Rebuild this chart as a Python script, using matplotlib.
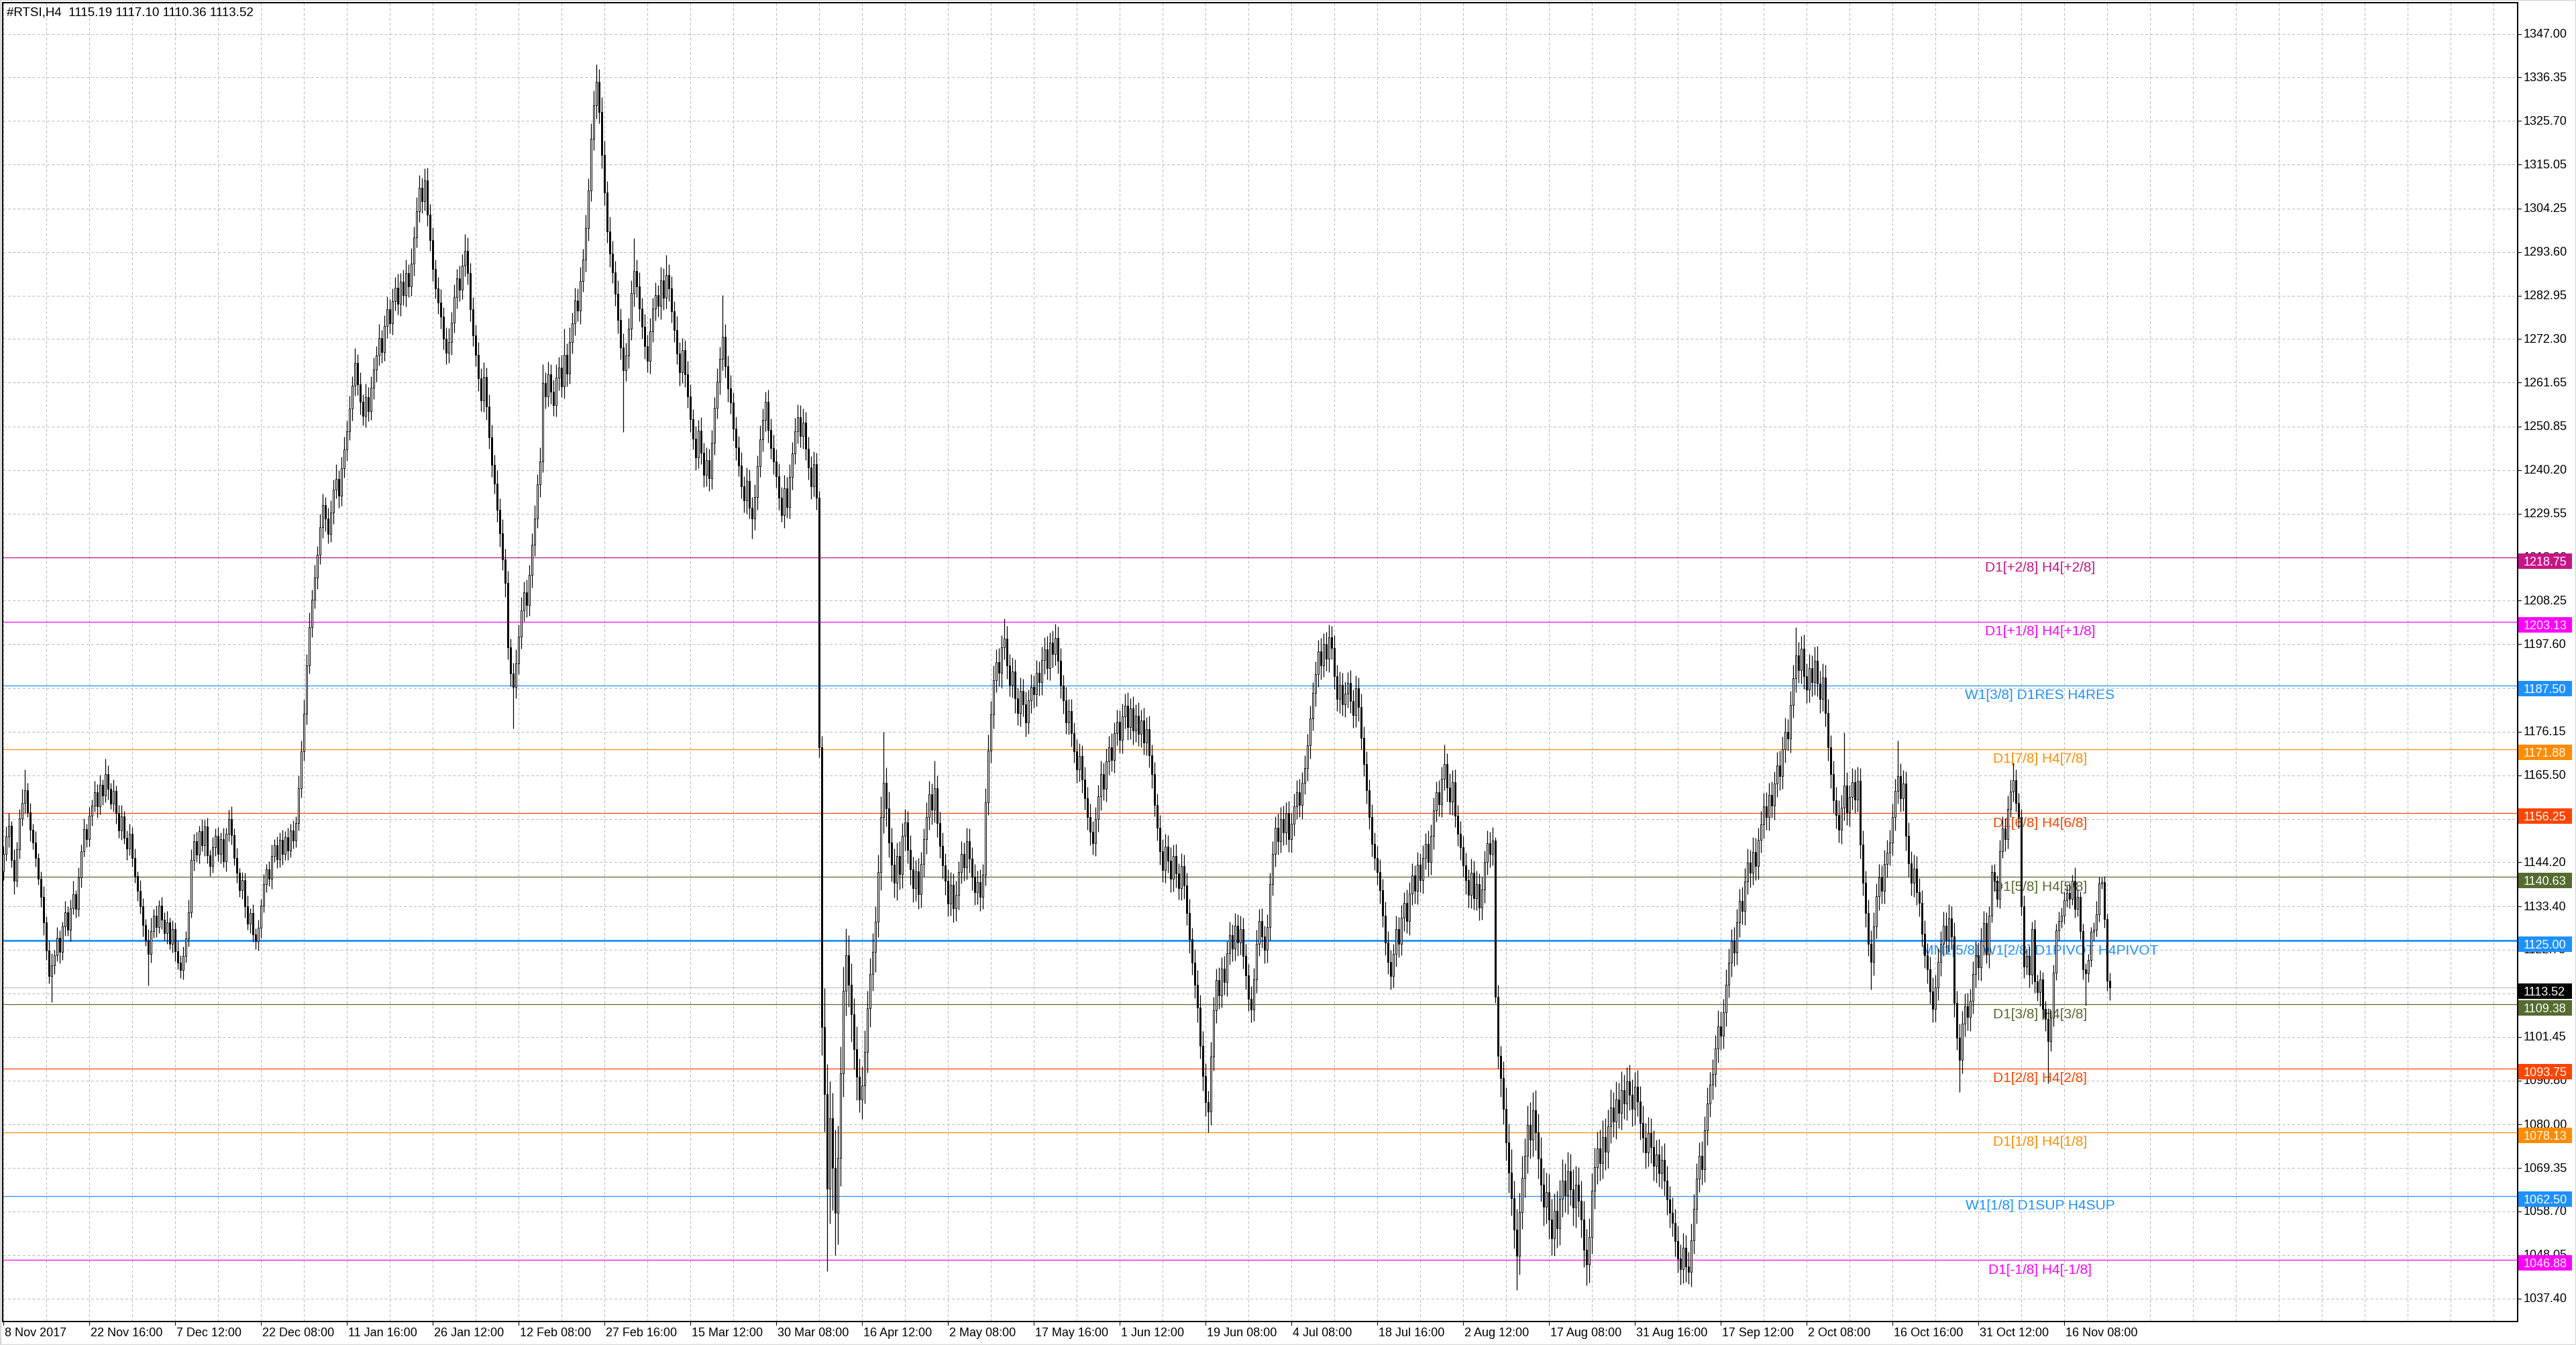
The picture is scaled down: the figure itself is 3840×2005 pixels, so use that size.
import matplotlib
matplotlib.use('Agg')
import matplotlib.pyplot as plt
from matplotlib.patches import Rectangle
from matplotlib.lines import Line2D
from matplotlib.transforms import blended_transform_factory
import numpy as np

plt.rcParams['font.family'] = ['Liberation Sans', 'DejaVu Sans']

# ---------------- data ----------------
title_text = '#RTSI,H4  1115.19 1117.10 1110.36 1113.52'
first_open = 1142.0
closes = [
1146.2, 1150.5, 1153.1, 1144.8, 1139.6, 1147.3, 1155.0, 1158.7, 1161.9, 1156.4, 1152.2, 1149.0, 1145.3, 1140.1, 1135.8, 1129.4,
1122.6, 1116.3, 1118.9, 1121.4, 1125.7, 1122.2, 1128.5, 1131.9, 1127.6, 1133.0, 1136.4, 1132.8, 1140.5, 1146.9, 1152.3, 1149.8,
1155.6, 1158.1, 1161.4, 1157.9, 1163.2, 1160.5, 1165.8, 1162.1, 1158.6, 1161.7, 1156.3, 1152.0, 1155.4, 1150.2, 1147.6, 1151.1,
1145.3, 1140.8, 1137.2, 1133.5, 1128.9, 1125.1, 1121.7, 1127.4, 1131.2, 1128.3, 1133.6, 1130.1, 1126.8, 1129.5, 1124.2, 1127.9,
1122.4, 1119.6, 1117.8, 1121.3, 1125.6, 1132.0, 1144.7, 1149.3, 1146.1, 1151.8, 1148.4, 1153.0, 1145.9, 1143.2, 1147.8, 1150.6,
1146.3, 1149.9, 1144.5, 1151.2, 1154.7, 1150.8, 1145.2, 1141.6, 1137.3, 1139.8, 1133.4, 1129.1, 1131.7, 1126.5, 1124.8, 1128.2,
1133.6, 1138.9, 1142.4, 1140.1, 1145.7, 1148.3, 1144.9, 1149.6, 1146.2, 1150.4, 1147.1, 1151.9, 1149.5, 1153.8, 1162.4, 1171.3,
1180.6, 1192.3, 1201.8, 1208.5, 1213.9, 1219.4, 1226.2, 1231.7, 1228.3, 1224.6, 1229.8, 1235.4, 1238.1, 1233.9, 1240.6, 1245.2,
1249.7, 1255.3, 1260.8, 1266.4, 1261.2, 1256.9, 1253.5, 1258.1, 1254.6, 1260.3, 1264.8, 1268.2, 1272.5, 1269.1, 1275.4, 1279.6,
1276.2, 1281.5, 1284.8, 1280.9, 1286.3, 1283.0, 1288.4, 1285.1, 1290.7, 1297.2, 1303.6, 1309.3, 1306.1, 1311.2, 1302.8, 1296.5,
1289.4, 1284.7, 1281.2, 1277.8, 1272.4, 1268.9, 1271.5, 1276.3, 1282.6, 1287.1, 1284.3, 1290.2, 1293.8, 1288.5, 1279.6, 1273.1,
1268.4, 1262.7, 1257.3, 1263.0, 1255.8, 1248.2, 1241.5, 1236.9, 1230.4, 1224.7, 1218.3, 1212.6, 1196.8, 1190.4, 1187.2, 1192.9,
1199.5, 1205.8, 1210.3, 1207.1, 1214.6, 1221.9, 1228.4, 1236.7, 1242.3, 1261.5, 1258.2, 1263.7, 1259.4, 1256.1, 1262.8, 1265.3,
1260.7, 1268.4, 1263.9, 1271.6, 1276.2, 1281.8, 1279.3, 1286.5, 1291.7, 1299.4, 1308.6, 1321.3, 1329.5, 1335.2, 1327.8, 1317.4,
1308.1, 1298.6, 1293.2, 1288.7, 1283.4, 1276.9, 1270.2, 1264.6, 1268.3, 1274.8, 1283.5, 1288.9, 1285.2, 1279.7, 1275.3, 1270.6,
1266.9, 1274.2, 1279.8, 1283.1, 1280.4, 1286.7, 1282.3, 1287.9, 1284.6, 1279.1, 1274.5, 1268.8, 1264.2, 1269.5, 1263.7, 1258.3,
1252.6, 1247.9, 1243.3, 1249.8, 1244.5, 1239.1, 1242.7, 1238.2, 1246.9, 1255.4, 1261.8, 1267.5, 1272.9, 1265.6, 1260.2, 1256.7,
1250.3, 1245.8, 1241.4, 1236.2, 1232.7, 1237.5, 1230.9, 1228.4, 1233.6, 1241.2, 1247.8, 1252.5, 1256.9, 1250.1, 1245.6, 1242.3,
1238.7, 1233.4, 1229.1, 1235.8, 1231.2, 1238.6, 1244.3, 1249.7, 1253.2, 1248.5, 1251.9, 1245.4, 1240.8, 1236.3, 1241.7, 1233.5,
1172.4, 1103.8, 1087.5, 1064.2, 1081.6, 1069.4, 1058.3, 1071.9, 1092.6, 1112.8, 1121.5, 1114.2, 1106.9, 1098.4, 1091.7, 1086.2,
1089.5, 1097.8, 1108.4, 1116.9, 1122.3, 1129.6, 1141.8, 1155.2, 1163.7, 1157.4, 1149.1, 1143.6, 1139.2, 1145.8, 1141.3, 1150.6,
1153.9, 1147.2, 1142.5, 1137.8, 1141.9, 1136.4, 1143.7, 1149.8, 1155.3, 1160.9, 1157.1, 1162.4, 1153.8, 1148.2, 1143.5, 1139.7,
1134.1, 1138.6, 1132.9, 1136.2, 1141.8, 1146.3, 1143.0, 1149.4, 1145.1, 1140.6, 1136.8, 1139.3, 1135.7, 1141.2, 1158.9, 1171.6,
1180.4, 1188.7, 1193.2, 1190.5, 1196.8, 1198.9, 1192.4, 1187.6, 1190.9, 1184.3, 1180.7, 1186.2, 1182.9, 1178.4, 1183.8, 1187.1,
1185.3, 1190.6, 1188.2, 1193.7, 1196.4, 1191.8, 1197.9, 1195.2, 1199.1, 1193.6, 1187.4, 1183.9, 1178.5, 1181.2, 1175.8, 1171.4,
1166.9, 1170.2, 1164.5, 1159.8, 1155.3, 1151.6, 1148.9, 1154.7, 1160.3, 1165.8, 1162.1, 1168.9, 1172.4, 1169.3, 1175.8, 1178.6,
1174.2, 1179.9, 1182.5, 1177.3, 1181.8, 1176.4, 1180.1, 1175.7, 1178.9, 1173.5, 1176.8, 1170.4, 1165.7, 1158.2, 1152.6, 1146.9,
1142.3, 1148.1, 1144.6, 1140.2, 1145.7, 1141.4, 1137.9, 1143.2, 1138.5, 1131.8, 1125.4, 1119.7, 1114.2, 1108.6, 1099.3, 1091.8,
1085.4, 1083.1, 1096.7, 1107.9, 1115.3, 1111.6, 1118.2, 1114.8, 1121.9, 1126.4, 1123.1, 1128.7, 1124.5, 1127.9, 1121.3, 1116.5,
1110.8, 1108.2, 1115.6, 1124.3, 1129.8, 1126.1, 1122.7, 1128.4, 1138.9, 1146.2, 1152.7, 1149.3, 1154.8, 1151.5, 1156.2, 1149.8,
1153.6, 1157.9, 1161.4, 1158.2, 1163.7, 1167.3, 1172.9, 1179.4, 1185.6, 1190.2, 1195.8, 1192.4, 1197.6, 1194.1, 1199.3, 1196.7,
1189.8, 1184.2, 1187.6, 1182.9, 1185.4, 1188.1, 1183.7, 1180.3, 1186.8, 1182.2, 1174.6, 1168.3, 1161.9, 1155.2, 1148.7, 1145.3,
1141.8, 1137.4, 1131.2, 1124.6, 1119.8, 1116.3, 1121.7, 1127.9, 1124.3, 1130.6, 1134.2, 1129.8, 1136.5, 1140.9, 1137.2, 1143.6,
1139.8, 1145.3, 1148.7, 1144.2, 1150.6, 1156.9, 1161.3, 1158.4, 1164.7, 1168.2, 1162.5, 1159.1, 1163.8, 1155.6, 1151.2, 1147.9,
1143.5, 1139.8, 1136.2, 1141.7, 1135.4, 1138.9, 1133.1, 1137.6, 1144.2, 1148.9, 1146.3, 1149.5, 1111.2, 1096.8, 1091.3, 1083.9,
1075.6, 1068.2, 1061.9, 1054.3, 1047.8, 1058.6, 1066.9, 1072.4, 1079.8, 1076.2, 1083.5, 1078.1, 1071.6, 1065.3, 1059.8, 1063.4,
1056.7, 1052.1, 1058.9, 1054.6, 1061.8, 1066.3, 1062.7, 1068.5, 1064.1, 1059.6, 1065.2, 1061.4, 1056.8, 1049.3, 1045.7, 1052.4,
1063.8, 1069.5, 1074.2, 1070.6, 1076.9, 1073.3, 1079.6, 1084.1, 1080.7, 1086.2, 1082.9, 1088.4, 1085.1, 1090.6, 1087.3, 1083.8,
1089.2, 1085.6, 1080.3, 1076.8, 1073.2, 1077.9, 1074.4, 1069.8, 1072.6, 1068.1, 1071.4, 1066.2, 1061.7, 1058.3, 1055.9, 1051.4,
1047.2, 1044.6, 1049.8, 1045.3, 1043.9, 1051.7, 1059.4, 1066.8, 1072.3, 1069.1, 1078.6, 1085.2, 1089.7, 1092.3, 1098.6, 1104.1,
1101.8, 1107.5, 1114.2, 1119.6, 1124.8, 1122.1, 1129.4, 1134.7, 1132.2, 1139.5, 1144.1, 1141.6, 1146.8, 1143.2, 1149.7, 1153.4,
1157.9, 1155.2, 1160.6, 1158.1, 1163.4, 1167.9, 1165.3, 1171.8, 1176.2, 1174.5, 1182.7, 1189.3, 1194.8, 1191.2, 1196.5, 1189.7,
1186.4, 1191.8, 1188.3, 1193.6, 1187.9, 1184.2, 1189.5, 1180.8, 1172.3, 1165.7, 1159.4, 1155.8, 1152.1, 1157.6, 1162.9, 1156.4,
1160.2, 1163.8, 1159.5, 1164.1, 1148.6, 1139.2, 1131.7, 1124.3, 1119.8, 1128.5, 1135.9, 1140.4, 1137.2, 1143.8, 1146.5, 1149.1,
1155.3, 1161.7, 1165.2, 1159.8, 1163.4, 1150.6, 1143.9, 1139.2, 1142.6, 1136.8, 1134.3, 1126.7, 1121.4, 1117.9, 1112.6, 1108.3,
1113.5, 1119.8, 1124.3, 1128.7, 1125.2, 1130.4, 1126.1, 1109.7, 1101.3, 1095.8, 1104.6, 1108.9, 1106.3, 1110.2, 1116.8, 1121.5,
1118.4, 1124.9, 1129.3, 1121.6, 1131.2, 1141.8, 1139.6, 1135.3, 1146.9, 1152.4, 1149.8, 1157.2, 1161.5, 1164.3, 1158.7, 1155.2,
1133.4, 1118.6, 1121.2, 1116.7, 1127.8, 1115.1, 1112.4, 1115.6, 1108.3, 1105.9, 1100.4, 1106.1, 1117.1, 1127.5, 1129.8, 1131.2,
1134.9, 1136.7, 1135.2, 1139.6, 1132.7, 1135.8, 1127.3, 1118.0, 1117.0, 1120.2, 1127.1, 1127.6, 1131.4, 1139.0, 1139.3, 1130.3,
1115.19, 1113.52]
up_wick = [
1.8, 2.4, 3.1, 1.2, 2.6, 1.9, 2.2, 3.4, 5.1, 1.7, 2.3, 1.4, 2.8, 1.1, 1.9, 2.5,
1.6, 2.2, 3.0, 1.4, 2.7, 1.8, 1.2, 2.9, 1.5, 2.1, 3.3, 1.0, 2.4, 1.7, 2.6, 1.3,
2.2, 1.5, 2.8, 1.9, 2.4, 1.3, 3.8, 2.1, 1.6, 2.7, 1.2, 2.0, 2.9, 1.4, 1.8, 2.5,
1.7, 2.3, 1.1, 2.6, 1.9, 1.4, 2.8, 3.2, 1.6, 2.4, 1.3, 2.1, 1.8, 2.7, 1.2, 2.0,
1.5, 2.4, 1.9, 2.2, 1.7, 3.1, 2.6, 1.8, 2.3, 1.4, 2.9, 1.6, 2.1, 1.3, 2.5, 1.9,
2.2, 1.6, 2.8, 1.4, 2.3, 3.2, 1.7, 2.5, 1.2, 2.0, 1.8, 2.6, 1.3, 2.2, 1.5, 1.9,
1.7, 2.4, 1.3, 2.1, 2.8, 1.5, 2.2, 1.9, 2.6, 1.4, 2.3, 1.8, 2.5, 1.6, 3.1, 2.7,
3.4, 2.8, 3.6, 2.5, 3.1, 2.2, 3.3, 2.7, 1.9, 2.6, 3.0, 2.4, 3.5, 2.1, 2.8, 3.2,
2.6, 3.1, 2.4, 3.7, 2.2, 2.9, 1.8, 3.3, 2.5, 2.8, 3.0, 2.3, 3.4, 2.0, 2.7, 3.1,
2.4, 3.2, 2.7, 3.5, 2.1, 2.9, 3.3, 2.2, 3.8, 2.6, 3.4, 3.1, 2.5, 2.8, 3.0, 2.6,
3.1, 2.4, 2.8, 3.3, 2.2, 2.7, 3.5, 2.6, 3.0, 2.3, 3.2, 2.8, 4.1, 3.4, 2.5, 2.9,
2.7, 3.2, 2.5, 3.6, 2.3, 2.9, 3.1, 2.4, 3.3, 2.8, 3.5, 2.6, 3.0, 2.2, 2.7, 3.4,
2.9, 3.3, 2.6, 3.1, 2.4, 2.8, 3.2, 2.5, 3.4, 4.6, 2.7, 3.1, 2.4, 2.9, 3.3, 2.6,
3.2, 6.4, 2.8, 3.5, 2.6, 3.1, 2.9, 3.4, 2.7, 3.3, 3.0, 3.8, 3.6, 4.4, 3.2, 3.7,
3.4, 2.9, 3.6, 3.1, 2.7, 3.3, 2.8, 3.5, 3.0, 2.6, 3.2, 8.1, 2.9, 3.4, 2.7, 3.1,
2.8, 3.3, 2.6, 3.0, 2.4, 3.2, 2.9, 5.0, 2.7, 3.1, 2.5, 3.4, 2.8, 3.0, 2.6, 3.2,
2.9, 2.5, 3.1, 2.7, 3.3, 2.4, 3.0, 2.8, 3.2, 2.6, 3.4, 2.9, 10.1, 3.1, 2.7, 3.3,
2.6, 3.0, 2.8, 3.2, 2.5, 3.4, 2.9, 2.7, 3.1, 2.6, 3.3, 2.8, 2.5, 3.0, 2.7, 3.2,
2.9, 3.1, 2.6, 3.3, 2.8, 3.0, 2.7, 3.2, 3.1, 2.9, 3.4, 2.6, 3.0, 2.8, 3.1, 2.7,
1.5, 2.8, 9.6, 7.3, 8.9, 6.2, 9.4, 7.8, 6.5, 5.9, 6.5, 4.8, 5.3, 4.1, 5.6, 4.4,
4.7, 5.2, 4.3, 3.9, 4.6, 3.8, 4.2, 5.1, 12.5, 3.7, 4.1, 3.5, 3.9, 3.3, 3.6, 3.2,
3.4, 2.9, 3.6, 3.1, 2.8, 3.3, 3.0, 2.7, 3.5, 3.2, 2.6, 6.6, 3.1, 2.8, 3.3, 2.9,
2.7, 3.2, 2.9, 3.4, 2.6, 3.1, 2.8, 3.3, 3.0, 2.7, 3.2, 2.9, 3.1, 2.6, 3.5, 3.8,
3.3, 3.6, 3.1, 3.4, 2.9, 5.0, 3.2, 2.8, 3.5, 3.0, 2.7, 3.3, 2.9, 3.1, 2.6, 3.2,
2.8, 3.1, 2.7, 3.3, 2.9, 3.2, 2.6, 3.0, 3.5, 2.8, 3.1, 2.7, 3.3, 2.9, 3.0, 2.6,
2.9, 3.2, 2.7, 3.1, 2.8, 3.3, 2.6, 3.0, 2.9, 3.2, 2.7, 3.1, 2.8, 3.4, 2.6, 3.0,
2.7, 3.1, 2.9, 3.3, 2.6, 3.0, 2.8, 3.2, 2.7, 3.1, 2.9, 3.3, 2.6, 3.0, 2.8, 3.2,
2.9, 3.1, 2.7, 3.3, 2.8, 3.0, 2.6, 3.2, 2.9, 3.1, 3.4, 2.8, 3.2, 3.6, 3.1, 3.5,
3.2, 2.9, 3.6, 3.3, 2.8, 3.1, 2.7, 3.0, 2.9, 3.2, 2.6, 3.1, 2.8, 3.3, 2.7, 3.0,
2.8, 3.1, 2.7, 3.3, 2.9, 3.2, 2.6, 3.0, 2.8, 3.1, 2.7, 3.4, 2.9, 3.2, 2.6, 3.0,
2.7, 3.1, 2.9, 3.3, 2.6, 3.0, 2.8, 3.2, 2.7, 3.1, 2.9, 3.3, 2.6, 3.0, 3.1, 2.8,
3.1, 2.7, 3.3, 2.9, 3.0, 2.6, 3.2, 2.8, 3.1, 2.7, 3.3, 2.9, 3.0, 2.6, 3.2, 2.8,
2.9, 3.1, 2.7, 3.3, 2.8, 3.0, 2.6, 3.2, 2.9, 3.1, 2.7, 3.3, 2.8, 3.0, 2.6, 3.2,
2.8, 3.1, 2.7, 3.3, 2.9, 3.2, 2.6, 3.0, 2.8, 4.8, 2.7, 3.4, 2.9, 3.2, 2.6, 3.0,
2.8, 3.1, 2.7, 3.3, 2.9, 3.2, 2.6, 3.0, 2.8, 3.1, 2.7, 3.3, 0.8, 3.0, 2.4, 4.1,
5.2, 4.6, 5.8, 4.3, 5.1, 4.7, 5.4, 4.2, 4.9, 5.6, 4.4, 5.0, 4.6, 5.3, 4.1, 4.8,
4.5, 5.1, 4.3, 4.9, 4.6, 5.2, 4.2, 4.8, 4.4, 5.0, 4.7, 4.3, 4.9, 4.5, 5.1, 4.6,
4.3, 4.8, 4.1, 4.6, 4.2, 4.7, 4.0, 4.5, 3.9, 4.4, 4.1, 4.6, 3.8, 3.4, 4.0, 3.7,
3.6, 4.1, 3.8, 4.3, 3.5, 4.0, 3.7, 4.2, 3.6, 3.9, 3.4, 4.1, 3.7, 3.3, 3.8, 3.5,
3.9, 3.4, 3.7, 3.2, 3.6, 4.0, 3.5, 3.8, 3.3, 3.7, 3.4, 3.9, 3.2, 3.6, 3.3, 3.8,
3.5, 3.2, 3.7, 3.4, 3.1, 3.6, 3.3, 3.0, 3.5, 3.2, 3.4, 3.1, 3.6, 3.3, 3.0, 3.4,
3.2, 3.5, 3.1, 3.4, 3.0, 3.3, 3.6, 3.2, 3.4, 3.1, 3.5, 3.2, 7.0, 3.3, 3.1, 3.4,
3.1, 3.4, 3.0, 3.3, 3.5, 3.2, 3.4, 3.1, 3.3, 3.0, 3.4, 3.2, 3.5, 3.1, 13.1, 3.3,
3.0, 3.4, 3.2, 3.5, 3.1, 3.3, 3.0, 3.4, 3.2, 3.5, 3.1, 3.3, 3.0, 3.4, 3.2, 3.1,
3.3, 3.0, 8.8, 3.2, 3.4, 3.1, 3.3, 3.0, 3.4, 3.2, 3.5, 3.1, 3.3, 3.0, 3.2, 3.4,
3.1, 3.3, 3.0, 3.4, 3.2, 3.5, 3.1, 3.3, 3.0, 3.4, 3.2, 3.1, 3.3, 3.0, 3.2, 3.4,
3.1, 3.3, 3.0, 2.6, 2.2, 1.8, 2.0, 1.4, 2.8, 3.1, 2.5, 3.3, 2.9, 4.2, 2.7, 2.4,
2.1, 2.6, 1.8, 2.3, 1.9, 2.4, 1.6, 2.2, 1.7, 2.0, 2.5, 1.8, 2.1, 1.6, 2.3, 1.9,
2.2, 1.8, 2.4, 1.5, 3.4, 1.7, 1.3, 1.9, 1.4, 1.6, 1.2, 1.8, 3.4, 1.6, 1.1, 1.5,
1.3, 1.91]
down_wick = [
2.1, 1.6, 2.7, 1.9, 3.2, 1.4, 2.3, 1.8, 2.5, 1.2, 2.9, 1.7, 2.2, 1.5, 2.6, 3.0,
2.4, 1.8, 6.3, 2.1, 1.5, 2.7, 1.9, 2.3, 1.4, 2.8, 1.6, 2.2, 1.9, 2.5, 1.3, 2.0,
1.7, 2.4, 1.5, 2.8, 1.9, 2.2, 1.6, 2.6, 1.3, 2.1, 2.7, 1.8, 2.3, 1.5, 2.9, 1.7,
2.2, 1.6, 2.5, 1.9, 2.8, 1.4, 7.7, 2.0, 1.7, 2.4, 1.5, 2.2, 1.8, 2.6, 1.3, 2.1,
2.4, 1.7, 1.9, 2.3, 1.6, 2.0, 1.4, 2.5, 1.8, 2.2, 1.5, 2.7, 1.9, 2.4, 1.6, 2.1,
1.8, 2.3, 1.5, 2.6, 1.9, 2.2, 1.7, 2.4, 1.6, 2.0, 2.8, 1.5, 2.3, 1.8, 1.9, 2.2,
2.5, 1.6, 2.1, 1.8, 2.4, 1.5, 2.2, 1.9, 2.6, 1.4, 2.3, 1.7, 2.0, 1.6, 1.9, 2.4,
2.2, 2.7, 1.9, 2.5, 2.1, 2.8, 2.3, 2.6, 3.1, 2.4, 2.0, 2.7, 2.2, 2.9, 2.5, 2.3,
2.7, 2.2, 2.9, 2.4, 2.6, 3.1, 2.3, 2.8, 2.5, 2.1, 2.7, 2.9, 2.4, 2.6, 2.2, 2.8,
2.5, 2.9, 2.3, 2.7, 3.0, 2.4, 2.8, 2.6, 2.2, 2.9, 2.5, 2.7, 3.1, 2.4, 2.8, 2.6,
2.9, 2.5, 2.7, 3.0, 2.6, 2.8, 2.4, 3.1, 2.5, 2.9, 2.7, 2.3, 2.6, 2.8, 3.0, 2.5,
2.8, 3.1, 2.6, 2.9, 3.3, 2.7, 3.0, 2.5, 2.8, 3.2, 2.6, 3.4, 2.9, 3.1, 10.2, 2.8,
2.7, 3.0, 2.5, 2.9, 2.6, 3.2, 2.8, 2.4, 3.1, 2.7, 2.9, 2.5, 3.0, 2.6, 2.8, 3.1,
2.6, 2.9, 3.2, 2.5, 2.8, 3.0, 2.7, 3.3, 2.6, 2.9, 3.1, 2.5, 2.8, 3.2, 2.7, 3.4,
3.1, 2.8, 3.3, 2.7, 3.0, 3.2, 2.9, 15.0, 2.6, 3.1, 2.8, 3.3, 2.7, 3.0, 2.9, 3.2,
2.8, 3.1, 2.6, 3.0, 2.7, 3.2, 2.9, 2.5, 3.1, 2.8, 3.0, 2.6, 3.3, 2.7, 3.1, 2.9,
3.0, 2.7, 3.2, 2.6, 2.9, 3.1, 2.8, 3.2, 2.7, 3.0, 2.6, 3.1, 2.9, 2.7, 3.2, 2.8,
2.9, 3.1, 2.7, 3.0, 2.8, 3.2, 2.6, 5.0, 2.9, 3.1, 2.7, 3.0, 2.8, 3.2, 2.6, 3.1,
2.8, 3.0, 1.6, 3.1, 2.7, 2.9, 3.2, 2.6, 3.0, 2.8, 3.1, 2.7, 2.9, 3.2, 2.6, 3.0,
2.5, 6.8, 9.2, 20.2, 8.4, 10.3, 10.3, 7.6, 6.9, 5.8, 6.2, 5.4, 6.7, 4.9, 5.8, 3.2,
4.8, 4.3, 5.1, 4.6, 4.2, 4.9, 3.8, 4.4, 3.9, 4.5, 3.7, 4.1, 3.6, 4.3, 3.8, 3.5,
3.6, 3.2, 3.8, 3.4, 3.1, 3.7, 3.3, 3.0, 3.5, 3.2, 3.6, 3.1, 3.4, 3.0, 3.3, 3.5,
3.2, 2.9, 3.4, 3.1, 3.6, 2.8, 3.3, 3.0, 3.5, 3.2, 3.1, 2.9, 3.4, 3.0, 2.7, 3.2,
3.1, 3.4, 2.9, 3.2, 3.6, 3.0, 3.3, 2.8, 3.1, 3.5, 2.9, 3.2, 3.0, 3.4, 2.8, 3.1,
3.3, 2.9, 3.2, 3.0, 3.4, 2.8, 3.1, 3.3, 2.9, 3.2, 3.0, 3.4, 2.8, 3.1, 3.3, 2.9,
3.2, 3.0, 3.4, 2.8, 3.1, 3.3, 2.9, 3.2, 3.0, 3.4, 2.8, 3.1, 3.3, 2.9, 3.2, 3.0,
3.1, 3.3, 2.9, 3.2, 3.0, 3.4, 2.8, 3.1, 3.3, 2.9, 3.2, 3.0, 3.4, 2.8, 3.1, 3.3,
3.0, 3.2, 2.9, 3.4, 3.1, 3.3, 2.8, 3.0, 3.2, 2.9, 3.4, 3.1, 3.3, 3.6, 3.2, 3.5,
3.4, 5.1, 3.2, 3.5, 3.0, 3.3, 2.9, 3.1, 3.4, 2.8, 3.2, 3.0, 3.3, 2.9, 3.1, 3.4,
3.0, 3.2, 2.9, 3.3, 3.1, 2.8, 3.2, 3.0, 3.4, 2.9, 3.1, 3.3, 2.8, 3.2, 3.0, 3.1,
3.3, 2.9, 3.2, 3.0, 3.4, 2.8, 3.1, 3.3, 2.9, 3.2, 3.0, 3.4, 2.8, 3.1, 3.3, 2.9,
3.2, 3.0, 3.4, 2.8, 3.1, 3.3, 2.9, 3.2, 3.0, 3.4, 2.8, 3.1, 3.3, 2.9, 3.2, 3.0,
3.1, 3.3, 2.9, 3.2, 3.0, 3.3, 2.8, 3.1, 3.3, 2.9, 3.2, 3.0, 3.4, 2.8, 3.1, 3.3,
3.0, 3.2, 2.9, 3.4, 3.1, 3.3, 2.8, 3.0, 3.2, 2.9, 3.4, 3.1, 3.3, 2.8, 3.0, 3.2,
2.9, 3.4, 3.1, 3.3, 2.8, 3.0, 3.2, 2.9, 3.4, 3.1, 3.3, 2.8, 1.4, 3.2, 4.5, 3.8,
4.4, 4.9, 4.2, 4.7, 8.3, 4.5, 4.1, 4.8, 4.3, 4.6, 4.0, 4.4, 4.9, 4.2, 4.5, 4.1,
4.7, 4.0, 4.3, 4.8, 4.1, 4.5, 4.2, 4.6, 4.0, 4.4, 4.8, 4.1, 4.5, 4.2, 5.0, 4.4,
4.1, 4.5, 4.0, 4.3, 3.9, 4.4, 4.0, 4.2, 3.8, 4.3, 3.9, 4.1, 3.7, 4.0, 3.8, 4.2,
3.9, 3.6, 4.1, 3.7, 4.0, 3.5, 3.9, 3.6, 4.0, 3.4, 3.8, 3.5, 3.9, 3.6, 3.3, 3.7,
3.4, 3.8, 3.5, 3.9, 3.0, 3.6, 3.3, 3.7, 3.4, 3.8, 3.2, 3.6, 3.3, 3.5, 3.1, 3.4,
3.6, 3.2, 3.5, 3.1, 3.4, 3.3, 3.0, 3.5, 3.2, 3.4, 3.1, 3.6, 3.0, 3.3, 3.2, 3.1,
3.4, 3.1, 3.3, 3.0, 3.5, 3.2, 3.4, 3.1, 3.3, 3.0, 3.4, 3.2, 3.5, 3.1, 3.3, 3.0,
3.3, 3.0, 3.4, 3.2, 3.1, 3.5, 3.0, 3.3, 3.2, 3.4, 3.1, 3.3, 3.0, 3.4, 3.2, 3.1,
3.4, 3.1, 3.3, 3.0, 3.5, 3.2, 3.4, 3.1, 6.8, 3.3, 3.0, 3.4, 3.2, 3.1, 3.3, 3.0,
3.2, 3.4, 3.1, 3.3, 3.0, 3.5, 3.2, 3.1, 3.4, 3.0, 3.3, 3.2, 3.1, 3.4, 3.0, 3.3,
3.2, 3.0, 3.4, 3.1, 3.3, 3.0, 3.2, 3.4, 3.1, 7.8, 3.3, 3.0, 3.2, 3.4, 3.1, 3.3,
3.0, 3.2, 3.4, 2.1, 3.3, 1.8, 2.6, 2.0, 2.4, 1.7, 2.9, 2.2, 1.9, 2.5, 2.1, 2.8,
2.3, 2.7, 2.0, 3.1, 2.4, 2.8, 2.2, 3.4, 2.6, 3.0, 10.4, 2.5, 2.1, 1.8, 2.4, 1.6,
2.0, 1.7, 2.3, 1.5, 2.1, 1.8, 1.9, 2.4, 7.9, 2.2, 1.6, 2.0, 1.5, 1.8, 1.3, 2.1,
2.4, 3.16]

level_prices = [1218.75, 1203.13, 1187.50, 1171.88, 1156.25, 1140.63,
                1125.00, 1109.38, 1093.75, 1078.13, 1062.50, 1046.88]
level_texts = ['D1[+2/8] H4[+2/8]', 'D1[+1/8] H4[+1/8]', 'W1[3/8] D1RES H4RES',
               'D1[7/8] H4[7/8]', 'D1[6/8] H4[6/8]', 'D1[5/8] H4[5/8]',
               'MN1[5/8] W1[2/8] D1PIVOT H4PIVOT', 'D1[3/8] H4[3/8]', 'D1[2/8] H4[2/8]',
               'D1[1/8] H4[1/8]', 'W1[1/8] D1SUP H4SUP', 'D1[-1/8] H4[-1/8]']
current_price = 1113.52

y_ticks = [1347.00, 1336.35, 1325.70, 1315.05, 1304.25, 1293.60, 1282.95, 1272.30,
           1261.65, 1250.85, 1240.20, 1229.55, 1218.90, 1208.25, 1197.60, 1186.80,
           1176.15, 1165.50, 1154.85, 1144.20, 1133.40, 1122.75, 1112.10, 1101.45,
           1090.80, 1080.00, 1069.35, 1058.70, 1048.05, 1037.40]
x_tick_labels = ['8 Nov 2017', '22 Nov 16:00', '7 Dec 12:00', '22 Dec 08:00', '11 Jan 16:00',
                 '26 Jan 12:00', '12 Feb 08:00', '27 Feb 16:00', '15 Mar 12:00', '30 Mar 08:00',
                 '16 Apr 12:00', '2 May 08:00', '17 May 16:00', '1 Jun 12:00', '19 Jun 08:00',
                 '4 Jul 08:00', '18 Jul 16:00', '2 Aug 12:00', '17 Aug 08:00', '31 Aug 16:00',
                 '17 Sep 12:00', '2 Oct 08:00', '16 Oct 16:00', '31 Oct 12:00', '16 Nov 08:00']

# ---------------- styles ----------------
level_colors = ['#C71585', '#FF00FF', '#1E90FF', '#FF8C00', '#FF4500', '#556B2F',
                '#1E90FF', '#556B2F', '#FF4500', '#FF8C00', '#1E90FF', '#FF00FF']
LABEL_STEP = 32
GRID_STEP = 16

W, H, DPI = 3840, 2006, 100
assert len(closes) == len(up_wick) == len(down_wick)

c = np.array(closes)
o = np.concatenate([[first_open], c[:-1]])
hi = np.maximum(o, c) + np.array(up_wick)
lo = np.minimum(o, c) - np.array(down_wick)
x = np.arange(len(c))

fig = plt.figure(figsize=(W / DPI, H / DPI), dpi=DPI)
fig.patch.set_facecolor('white')
px_l, px_r, px_t, px_b = 4, 3753, 5, 1971
ax = fig.add_axes([px_l / W, 1 - px_b / H, (px_r - px_l) / W, (px_b - px_t) / H])
ax.set_xlim(-0.25, 937)
ax.set_ylim(1031.76, 1354.64)
ax.set_xticks([]); ax.set_yticks([])
for s in ax.spines.values():
    s.set_color('black'); s.set_linewidth(1.4)

grid_kw = dict(color='#BDBDBD', lw=0.75, ls=(0, (4, 3)), zorder=0)
for yv in y_ticks:
    ax.axhline(yv, **grid_kw)
for b in range(0, 937, GRID_STEP):
    ax.axvline(b, **grid_kw)

# levels
for p, col, txt in zip(level_prices, level_colors, level_texts):
    ax.axhline(p, color=col, lw=(2.0 if txt.startswith('MN1') else 0.9), zorder=1)
    ax.text(759, p - 0.75, txt, color=col, fontsize=15, ha='center', va='top', zorder=1.5)
ax.axhline(current_price, color='#C0C0C0', lw=0.9, zorder=1)

# candles
ax.vlines(x, lo, hi, color='black', lw=0.9, zorder=3)
bull = c >= o
ax.bar(x[bull], (c - o)[bull], bottom=o[bull], width=0.6, facecolor='white',
       edgecolor='black', linewidth=0.7, zorder=4)
ax.bar(x[~bull], (o - c)[~bull], bottom=c[~bull], width=0.6, facecolor='black',
       edgecolor='black', linewidth=0.7, zorder=4)

# right price scale
tr_r = blended_transform_factory(fig.transFigure, ax.transData)
for yv in y_ticks:
    ax.text(3762 / W, yv, f'{yv:.2f}', transform=tr_r, fontsize=13, ha='left',
            va='center', color='black', clip_on=False, zorder=6)
    ax.add_line(Line2D([px_r / W, (px_r + 5) / W], [yv, yv], transform=tr_r,
                       color='black', lw=0.8, clip_on=False))
unit = 6.089
for p, col in list(zip(level_prices, level_colors)) + [(current_price, 'black')]:
    ax.add_patch(Rectangle((3754 / W, p - 16.5 / unit), 80 / W, 23 / unit,
                           transform=tr_r, facecolor=col, edgecolor='none',
                           clip_on=False, zorder=7))
    ax.text(3762 / W, p - 6 / unit, f'{p:.2f}', transform=tr_r, fontsize=13,
            ha='left', va='center', color='white', clip_on=False, zorder=8)

# bottom time scale
tr_b = blended_transform_factory(ax.transData, fig.transFigure)
for k, lab in enumerate(x_tick_labels):
    b = k * LABEL_STEP
    ax.text(b + 0.4, 1 - 1988 / H, lab, transform=tr_b, fontsize=13, ha='left',
            va='center', clip_on=False)
    ax.add_line(Line2D([b, b], [1 - px_b / H, 1 - (px_b + 5) / H], transform=tr_b,
                       color='black', lw=0.8, clip_on=False))

fig.text(10 / W, 1 - 19 / H, title_text, fontsize=13.5, ha='left', va='center')
fig.add_artist(Rectangle((0, 0), 1, 1, transform=fig.transFigure, fill=False,
                         edgecolor='#D8D8D8', lw=2.5))

fig.savefig('out.png', dpi=DPI)
